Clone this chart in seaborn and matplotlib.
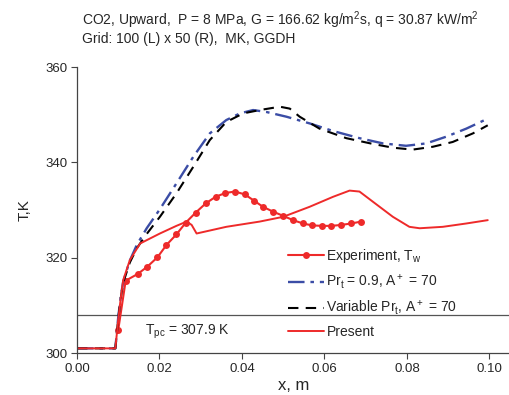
import numpy as np
import pandas as pd
import matplotlib
matplotlib.use("Agg")
import matplotlib.pyplot as plt
import seaborn as sns

# Data
# -------------------------------------------------------------
exp_x = [0.0100, 0.0118, 0.0147, 0.0170, 0.0195, 0.0217, 0.0241, 0.0264, 0.0288,
         0.0312, 0.0336, 0.0360, 0.0383, 0.0407, 0.0429, 0.0451, 0.0475, 0.0500,
         0.0524, 0.0548, 0.0570, 0.0594, 0.0617, 0.0641, 0.0665, 0.0689]
exp_T = [304.9, 315.2, 316.6, 318.1, 320.1, 322.7, 324.9, 327.4, 329.5,
         331.4, 332.8, 333.6, 333.9, 333.3, 332.0, 330.7, 329.7, 328.8,
         327.9, 327.2, 326.8, 326.7, 326.7, 326.9, 327.2, 327.6]

pr09_x = [0.0, 0.0093, 0.0100, 0.0106, 0.0112, 0.0128, 0.0145, 0.0169, 0.0201, 0.0241,
          0.0282, 0.0322, 0.0362, 0.0395, 0.0427, 0.0459, 0.0508, 0.0564, 0.0621,
          0.0685, 0.0742, 0.0798, 0.0847, 0.0895, 0.0944, 0.0996]
pr09_T = [301.0, 301.0, 307.6, 311.8, 315.0, 319.4, 322.7, 326.2, 330.2, 335.6,
          341.2, 346.1, 348.9, 350.3, 351.0, 350.6, 349.6, 348.2, 346.6,
          345.1, 344.0, 343.5, 344.0, 345.4, 347.1, 349.2]

var_x = [0.0, 0.0093, 0.0100, 0.0106, 0.0112, 0.0128, 0.0145, 0.0169, 0.0201, 0.0241,
         0.0282, 0.0322, 0.0362, 0.0403, 0.0443, 0.0492, 0.0516, 0.0540, 0.0588,
         0.0653, 0.0717, 0.0766, 0.0814, 0.0863, 0.0911, 0.0960, 0.0996]
var_T = [301.0, 301.0, 307.3, 311.5, 314.8, 319.0, 322.0, 325.0, 328.6, 333.5,
         339.1, 344.7, 348.5, 350.3, 351.0, 351.7, 351.3, 349.6, 347.1,
         345.1, 343.9, 343.1, 342.7, 343.3, 344.3, 346.1, 347.8]

pres_x = [0.0, 0.0093, 0.0100, 0.0106, 0.0112, 0.0128, 0.0153, 0.0201, 0.0241, 0.0266,
          0.0278, 0.0290, 0.0362, 0.0443, 0.0500, 0.0564, 0.0621, 0.0661, 0.0685,
          0.0717, 0.0766, 0.0806, 0.0831, 0.0887, 0.0944, 0.0996]
pres_T = [301.0, 301.0, 307.0, 311.5, 315.3, 319.5, 323.0, 325.1, 326.7, 327.6,
          326.9, 325.1, 326.5, 327.6, 328.6, 330.7, 332.8, 334.1, 333.9,
          331.8, 328.6, 326.5, 326.2, 326.5, 327.2, 327.9]

T_PC = 307.9

RED = "#ee2a2a"
BLUE = "#3b4da6"

# Style
# -------------------------------------------------------------
sns.set_style("ticks")
plt.rcParams["font.family"] = ["Liberation Sans", "DejaVu Sans"]
plt.rcParams["mathtext.fontset"] = "custom"
plt.rcParams["mathtext.rm"] = "Liberation Sans"
plt.rcParams["mathtext.it"] = "Liberation Sans"
plt.rcParams["mathtext.default"] = "regular"

fig = plt.figure(figsize=(5.10, 3.95), dpi=100)
ax = fig.add_axes([0.151, 0.106, 0.849, 0.724])

# Plot
# -------------------------------------------------------------
sns.lineplot(x=exp_x, y=exp_T, ax=ax, color=RED, lw=1.5, marker="o", markersize=5,
             markeredgewidth=0, label="Experiment, T$_w$", sort=False)
sns.lineplot(x=pr09_x, y=pr09_T, ax=ax, color=BLUE, lw=1.7,
             label="Pr$_t$ = 0.9, A$^+$ = 70", sort=False)
sns.lineplot(x=var_x, y=var_T, ax=ax, color="black", lw=1.5,
             label="Variable Pr$_t$, A$^+$ = 70", sort=False)
sns.lineplot(x=pres_x, y=pres_T, ax=ax, color=RED, lw=1.4,
             label="Present", sort=False)

lines = ax.get_lines()
lines[1].set_dashes([7, 2.5, 1.5, 2.5])
lines[2].set_dashes([5, 3.5])

ax.axhline(T_PC, color="#555555", lw=0.9, zorder=0)
ax.text(0.0166, 304.5, "T$_{pc}$ = 307.9 K", fontsize=10, va="center", ha="left")

ax.set_xlim(0, 0.105)
ax.set_ylim(300, 360)
ax.set_xticks([0.00, 0.02, 0.04, 0.06, 0.08, 0.10])
ax.set_yticks([300, 320, 340, 360])
ax.set_xticklabels(["0.00", "0.02", "0.04", "0.06", "0.08", "0.10"])
ax.tick_params(labelsize=9.5, length=4, width=0.8, color="#444444", pad=3)
for s in ["top", "right"]:
    ax.spines[s].set_visible(False)
for s in ["left", "bottom"]:
    ax.spines[s].set_linewidth(0.9)
    ax.spines[s].set_color("#444444")

ax.set_xlabel("x, m", fontsize=12, labelpad=2)
ax.set_ylabel("T,K", fontsize=11, labelpad=10)

ax.legend(loc="upper left", bbox_to_anchor=(0.475, 0.39), frameon=False, fontsize=10,
          handlelength=2.6, handletextpad=0.15, labelspacing=0.55, borderaxespad=0)

fig.text(0.161, 0.975, "CO2, Upward,  P = 8 MPa, G = 166.62 kg/m$^2$s, q = 30.87 kW/m$^2$",
         fontsize=10, va="top", ha="left")
fig.text(0.161, 0.92, "Grid: 100 (L) x 50 (R),  MK, GGDH", fontsize=10, va="top", ha="left")

fig.savefig("out.png", dpi=100)
